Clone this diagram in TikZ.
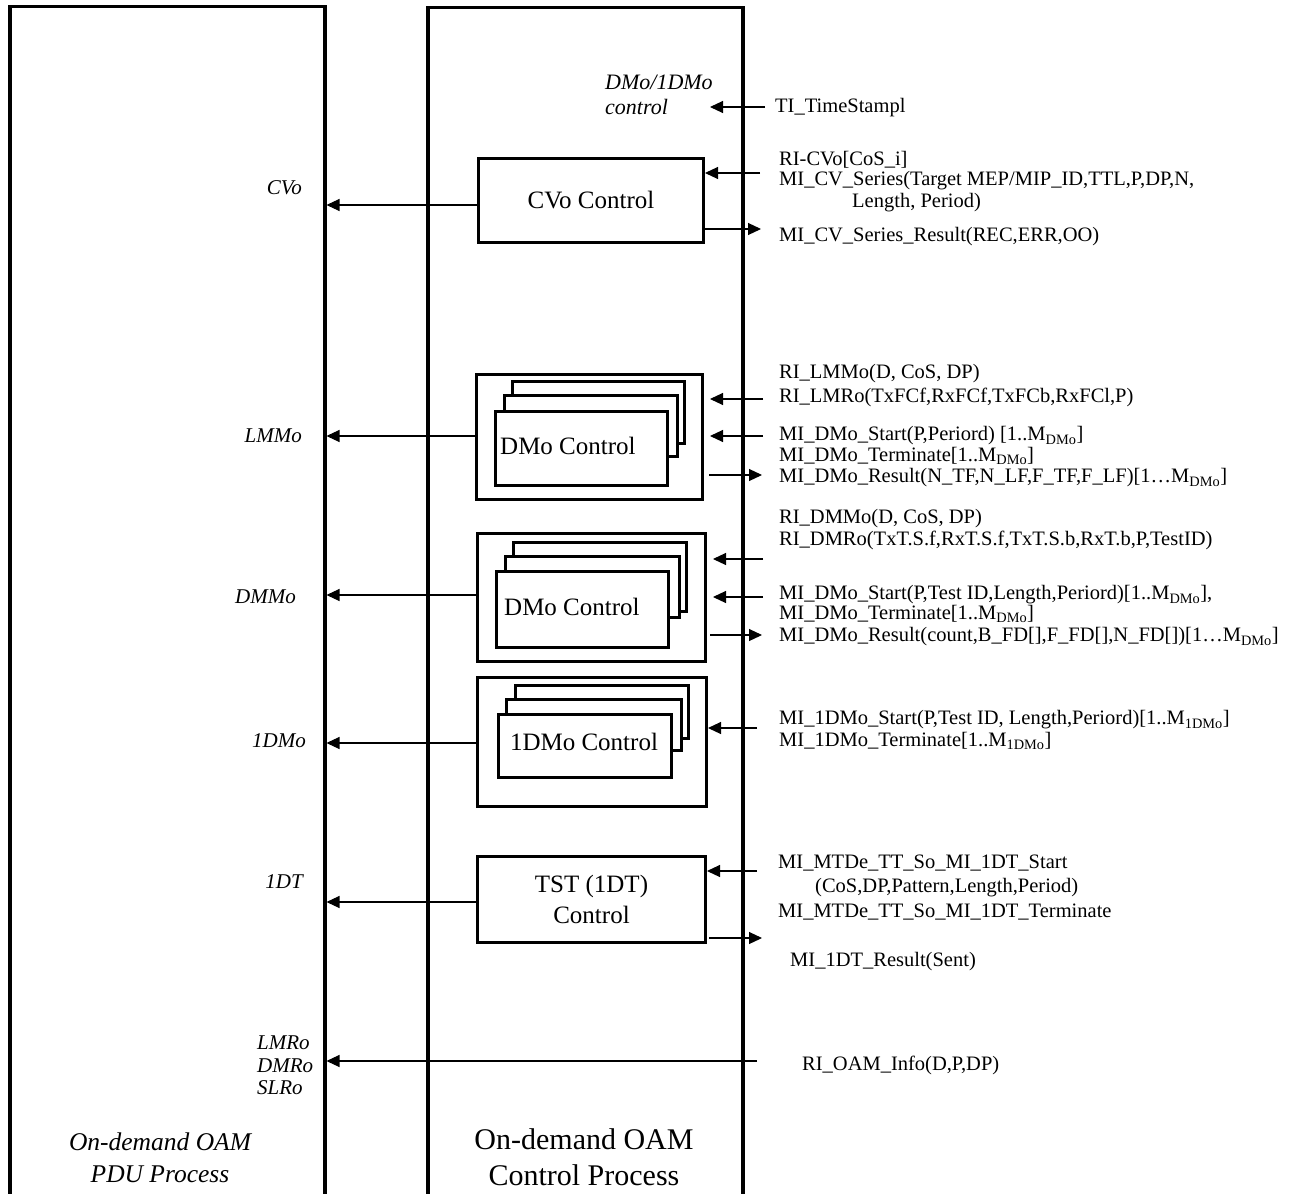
\documentclass[tikz,border=0pt]{standalone}
\usepackage{fontspec}
\setmainfont{Liberation Serif}
\usetikzlibrary{arrows.meta}
\begin{document}
\begin{tikzpicture}[x=1pt,y=-1pt,
  bigbox/.style={draw,line width=3.5pt,inner sep=0pt,anchor=north west},
  ctlbox/.style={draw,line width=3pt,fill=white,inner sep=0pt,anchor=north west},
  arr/.style={line width=1.1pt,-{Triangle[length=13pt,width=12pt]}},
  rtxt/.style={anchor=west,inner sep=0pt,font=\fontsize{20.5}{22}\selectfont},
  ltxt/.style={anchor=east,inner sep=0pt,font=\fontsize{21}{23}\selectfont\itshape},
  boxtxt/.style={inner sep=0pt,font=\fontsize{25}{30}\selectfont}]
\useasboundingbox (0,0) rectangle (1289,1193);
\fill[white] (0,0) rectangle (1289,1193);

% big process boxes
\node[bigbox,minimum width=315pt,minimum height=1300pt] (pdu) at (8,5) {};
\node[bigbox,minimum width=315pt,minimum height=1300pt] (ctl) at (426,6) {};

% CVo control
\node[ctlbox,minimum width=225pt,minimum height=84pt,boxtxt] (cvo) at (477,157) {CVo Control};

% LMMo group
\node[ctlbox,minimum width=226pt,minimum height=125pt] (lmm) at (475,373) {};
\node[ctlbox,minimum width=172pt,minimum height=62pt] (lmmC) at (511,380) {};
\node[ctlbox,minimum width=173pt,minimum height=61pt] (lmmB) at (503,394) {};
\node[ctlbox,minimum width=172pt,minimum height=74pt] (lmmA) at (494,410) {};
\node[boxtxt,anchor=west] (lmmT) at (500,446) {DMo Control};

% DMMo group
\node[ctlbox,minimum width=228pt,minimum height=128pt] (dmm) at (476,532) {};
\node[ctlbox,minimum width=173pt,minimum height=69pt] (dmmC) at (512,541) {};
\node[ctlbox,minimum width=174pt,minimum height=61pt] (dmmB) at (504,555) {};
\node[ctlbox,minimum width=172pt,minimum height=76pt] (dmmA) at (495,570) {};
\node[boxtxt,anchor=west] (dmmT) at (504,607) {DMo Control};

% 1DMo group
\node[ctlbox,minimum width=229pt,minimum height=129pt] (odm) at (476,676) {};
\node[ctlbox,minimum width=173pt,minimum height=53pt] (odmC) at (514,684) {};
\node[ctlbox,minimum width=175pt,minimum height=51pt] (odmB) at (505,698) {};
\node[ctlbox,minimum width=173pt,minimum height=63pt] (odmA) at (497,713) {};
\node[boxtxt] (odmT) at (584,742) {1DMo Control};

% TST control
\node[ctlbox,minimum width=228pt,minimum height=86pt,boxtxt,align=center] (tst) at (476,855) {TST (1DT)\\[1pt]Control};

% left labels
\node[ltxt] (lCVo) at (302,188) {CVo};
\node[ltxt] (lLMMo) at (302,436) {LMMo};
\node[ltxt] (lDMMo) at (296,597) {DMMo};
\node[ltxt] (l1DMo) at (306,741) {1DMo};
\node[ltxt] (l1DT) at (303,882) {1DT};
\node[anchor=north west,align=left,inner sep=0pt,font=\fontsize{21}{22.5}\selectfont\itshape] (lOAM) at (257,1036) {LMRo\\DMRo\\SLRo};
\node[anchor=west,align=left,inner sep=0pt,font=\fontsize{22}{25}\selectfont\itshape] (lctl) at (605,95) {DMo/1DMo\\control};

% bottom titles
\node[align=center,inner sep=0pt,font=\fontsize{25.5}{32}\selectfont\itshape] (tpdu) at (160,1158) {On-demand OAM\\PDU Process};
\node[align=center,inner sep=0pt,font=\fontsize{30}{36}\selectfont] (tctl) at (584,1157) {On-demand OAM\\Control Process};

% left-going connectors
\coordinate (yA) at (0,205);
\coordinate (yB) at (0,436);
\coordinate (yC) at (0,595);
\coordinate (yD) at (0,743);
\coordinate (yE) at (0,902);
\draw[arr] (cvo.west |- yA) -- (pdu.east |- yA);
\draw[arr] (lmm.west |- yB) -- (pdu.east |- yB);
\draw[arr] (dmm.west |- yC) -- (pdu.east |- yC);
\draw[arr] (odm.west |- yD) -- (pdu.east |- yD);
\draw[arr] (tst.west |- yE) -- (pdu.east |- yE);
\coordinate (oamS) at (757,1061);
\draw[arr] (oamS) -- (pdu.east |- oamS);

% right-side connectors
\coordinate (tiS) at (765,107);
\coordinate (tiE) at (710,107);
\draw[arr] (tiS) -- (tiE);

\coordinate (c1) at (760,173);
\draw[arr] (c1) -- (cvo.east |- c1);
\coordinate (c2) at (761,229);
\draw[arr] (cvo.east |- c2) -- (c2);

\coordinate (m1) at (763,399);
\coordinate (m2) at (763,436);
\coordinate (m3) at (762,475);
\draw[arr,shorten >=6pt] (m1) -- (lmm.east |- m1);
\draw[arr,shorten >=6pt] (m2) -- (lmm.east |- m2);
\draw[arr,shorten <=5pt] (lmm.east |- m3) -- (m3);

\coordinate (d1) at (763,559);
\coordinate (d2) at (763,597);
\coordinate (d3) at (762,635);
\draw[arr,shorten >=6pt] (d1) -- (dmm.east |- d1);
\draw[arr,shorten >=6pt] (d2) -- (dmm.east |- d2);
\draw[arr,shorten <=3pt] (dmm.east |- d3) -- (d3);

\coordinate (o1) at (757,728);
\draw[arr] (o1) -- (odm.east |- o1);

\coordinate (s1) at (757,871);
\coordinate (s2) at (762,938);
\draw[arr] (s1) -- (tst.east |- s1);
\draw[arr,shorten <=2pt] (tst.east |- s2) -- (s2);

% right texts
\node[rtxt] (tTI) at (775,108) {TI\_TimeStampl};
\node[rtxt] (tCV1) at (779,160) {RI-CVo[CoS\_i]};
\node[rtxt] (tCV2) at (779,181) {MI\_CV\_Series(Target MEP/MIP\_ID,TTL,P,DP,N,};
\node[rtxt] (tCV3) at (852,203) {Length, Period)};
\node[rtxt] (tCV4) at (779,237) {MI\_CV\_Series\_Result(REC,ERR,OO)};

\node[rtxt] (tL1) at (779,374) {RI\_LMMo(D, CoS, DP)};
\node[rtxt] (tL2) at (779,397) {RI\_LMRo(TxFCf,RxFCf,TxFCb,RxFCl,P)};
\node[rtxt] (tL3) at (779,436) {MI\_DMo\_Start(P,Periord) [1..M\textsubscript{DMo}]};
\node[rtxt] (tL4) at (779,456) {MI\_DMo\_Terminate[1..M\textsubscript{DMo}]};
\node[rtxt] (tL5) at (779,478) {MI\_DMo\_Result(N\_TF,N\_LF,F\_TF,F\_LF)[1…M\textsubscript{DMo}]};

\node[rtxt] (tD1) at (779,519) {RI\_DMMo(D, CoS, DP)};
\node[rtxt] (tD2) at (779,540) {RI\_DMRo(TxT.S.f,RxT.S.f,TxT.S.b,RxT.b,P,TestID)};
\node[rtxt] (tD3) at (779,595) {MI\_DMo\_Start(P,Test ID,Length,Periord)[1..M\textsubscript{DMo}],};
\node[rtxt] (tD4) at (779,614) {MI\_DMo\_Terminate[1..M\textsubscript{DMo}]};
\node[rtxt] (tD5) at (779,637) {MI\_DMo\_Result(count,B\_FD[],F\_FD[],N\_FD[])[1…M\textsubscript{DMo}]};

\node[rtxt] (tO1) at (779,720) {MI\_1DMo\_Start(P,Test ID, Length,Periord)[1..M\textsubscript{1DMo}]};
\node[rtxt] (tO2) at (779,741) {MI\_1DMo\_Terminate[1..M\textsubscript{1DMo}]};

\node[rtxt] (tS1) at (778,863) {MI\_MTDe\_TT\_So\_MI\_1DT\_Start};
\node[rtxt] (tS2) at (815,888) {(CoS,DP,Pattern,Length,Period)};
\node[rtxt] (tS3) at (778,912) {MI\_MTDe\_TT\_So\_MI\_1DT\_Terminate};
\node[rtxt] (tS4) at (790,962) {MI\_1DT\_Result(Sent)};

\node[rtxt] (tR) at (802,1065) {RI\_OAM\_Info(D,P,DP)};
\end{tikzpicture}
\end{document}
